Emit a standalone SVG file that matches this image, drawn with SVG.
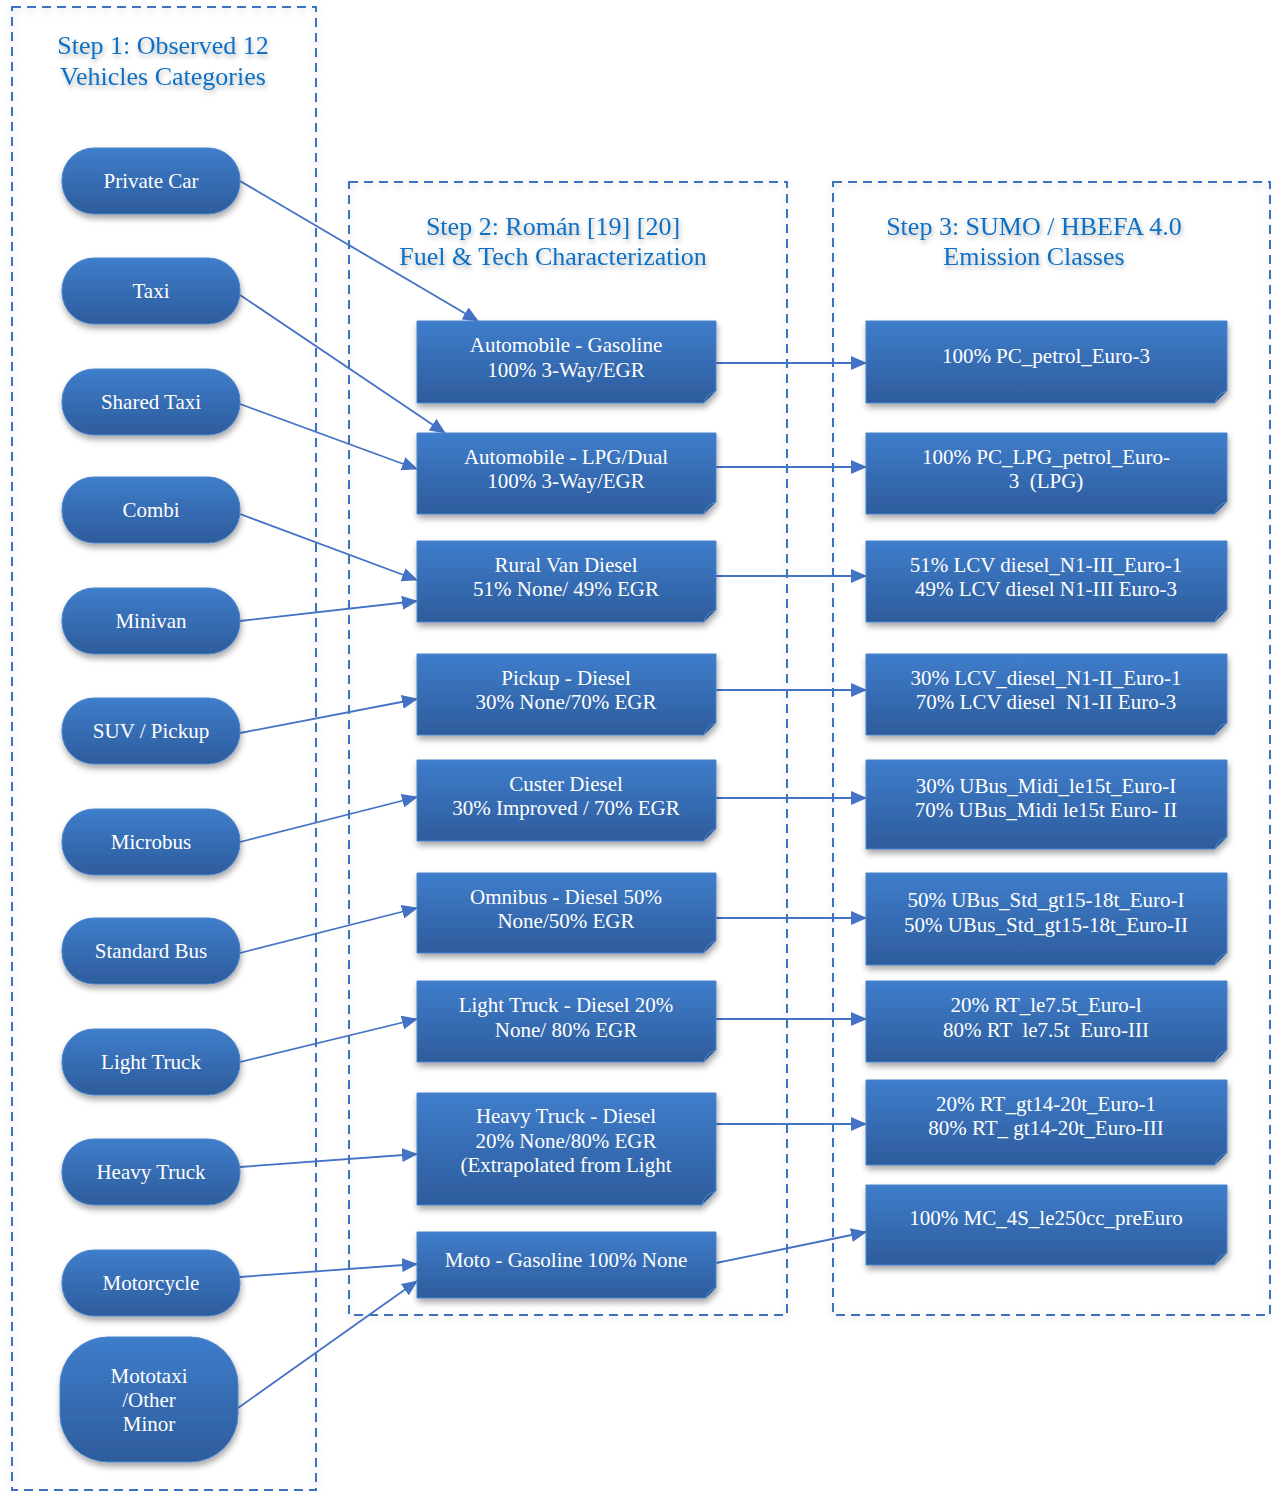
<svg xmlns="http://www.w3.org/2000/svg" width="1271" height="1491" viewBox="0 0 1271 1491">
<style>
.frame{fill:none;stroke:#3a73bf;stroke-width:2;stroke-dasharray:9 6}
.title{font-family:"Liberation Serif",serif;font-size:26px;fill:#1070c4;text-anchor:middle}
.lbl{font-family:"Liberation Serif",serif;font-size:21px;fill:#ffffff;text-anchor:middle;white-space:pre}
.box{fill:url(#g);stroke:#4a84cc;stroke-width:1}
.fold{fill:#2a5590;stroke:#5a8fd0;stroke-width:1}
.pill{fill:url(#g);stroke:#4a84cc;stroke-width:1}
.con line{stroke:#4472c4;stroke-width:1.8;fill:none}
</style>
<defs>
<linearGradient id="g" x1="0" y1="0" x2="0" y2="1">
<stop offset="0" stop-color="#3f7dcb"/>
<stop offset="1" stop-color="#2d5c9c"/>
</linearGradient>
<filter id="sh" x="-10%" y="-10%" width="125%" height="135%">
<feDropShadow dx="1" dy="4" stdDeviation="3" flood-color="#000" flood-opacity="0.35"/>
</filter>
<filter id="tsh" x="-10%" y="-30%" width="120%" height="170%">
<feDropShadow dx="1" dy="3" stdDeviation="2.5" flood-color="#000" flood-opacity="0.3"/>
</filter>
<filter id="fsh" x="-5%" y="-5%" width="110%" height="110%">
<feDropShadow dx="0" dy="3" stdDeviation="3" flood-color="#000" flood-opacity="0.18"/>
</filter>
<marker id="ah" markerUnits="userSpaceOnUse" markerWidth="16" markerHeight="14" refX="15" refY="7" orient="auto">
<path d="M0,0 L16,7 L0,14 Z" fill="#4472c4"/>
</marker>
</defs>

<g id="frames">
<rect class="frame" x="12" y="7" width="304" height="1483" filter="url(#fsh)"/>
<rect class="frame" x="349" y="182" width="438" height="1133" filter="url(#fsh)"/>
<rect class="frame" x="833" y="182" width="437" height="1133" filter="url(#fsh)"/>
</g>

<g id="titles" filter="url(#tsh)">
<text class="title" x="163" y="54">Step 1: Observed 12</text>
<text class="title" x="163" y="85">Vehicles Categories</text>
<text class="title" x="553" y="235">Step 2: Román [19] [20]</text>
<text class="title" x="553" y="265">Fuel &amp; Tech Characterization</text>
<text class="title" x="1034" y="235">Step 3: SUMO / HBEFA 4.0</text>
<text class="title" x="1034" y="265">Emission Classes</text>
</g>

<g id="connectors" class="con">
<line x1="240" y1="181" x2="478" y2="321" marker-end="url(#ah)"/>
<line x1="240" y1="295" x2="445" y2="433" marker-end="url(#ah)"/>
<line x1="240" y1="404" x2="417" y2="469" marker-end="url(#ah)"/>
<line x1="240" y1="514" x2="417" y2="580" marker-end="url(#ah)"/>
<line x1="240" y1="621" x2="417" y2="601" marker-end="url(#ah)"/>
<line x1="240" y1="733" x2="417" y2="699" marker-end="url(#ah)"/>
<line x1="240" y1="842" x2="417" y2="797" marker-end="url(#ah)"/>
<line x1="240" y1="953" x2="417" y2="908" marker-end="url(#ah)"/>
<line x1="240" y1="1062" x2="417" y2="1019" marker-end="url(#ah)"/>
<line x1="240" y1="1167" x2="417" y2="1154" marker-end="url(#ah)"/>
<line x1="240" y1="1277" x2="417" y2="1264" marker-end="url(#ah)"/>
<line x1="238" y1="1408" x2="417" y2="1281" marker-end="url(#ah)"/>
<line x1="716" y1="363" x2="866" y2="363" marker-end="url(#ah)"/>
<line x1="716" y1="467" x2="866" y2="467" marker-end="url(#ah)"/>
<line x1="716" y1="576" x2="866" y2="576" marker-end="url(#ah)"/>
<line x1="716" y1="690" x2="866" y2="690" marker-end="url(#ah)"/>
<line x1="716" y1="798" x2="866" y2="798" marker-end="url(#ah)"/>
<line x1="716" y1="918" x2="866" y2="918" marker-end="url(#ah)"/>
<line x1="716" y1="1019" x2="866" y2="1019" marker-end="url(#ah)"/>
<line x1="716" y1="1124" x2="866" y2="1124" marker-end="url(#ah)"/>
<line x1="716" y1="1263" x2="866" y2="1232" marker-end="url(#ah)"/>
</g>

<g id="step1">
<g id="n-private-car"><rect class="pill" x="62" y="148" width="178" height="66" rx="32" filter="url(#sh)"/><text class="lbl" x="151" y="188">Private Car</text></g>
<g id="n-taxi"><rect class="pill" x="62" y="258" width="178" height="66" rx="32" filter="url(#sh)"/><text class="lbl" x="151" y="298">Taxi</text></g>
<g id="n-shared-taxi"><rect class="pill" x="62" y="369" width="178" height="66" rx="32" filter="url(#sh)"/><text class="lbl" x="151" y="409">Shared Taxi</text></g>
<g id="n-combi"><rect class="pill" x="62" y="477" width="178" height="66" rx="32" filter="url(#sh)"/><text class="lbl" x="151" y="517">Combi</text></g>
<g id="n-minivan"><rect class="pill" x="62" y="588" width="178" height="66" rx="32" filter="url(#sh)"/><text class="lbl" x="151" y="628">Minivan</text></g>
<g id="n-suv"><rect class="pill" x="62" y="698" width="178" height="66" rx="32" filter="url(#sh)"/><text class="lbl" x="151" y="738">SUV / Pickup</text></g>
<g id="n-microbus"><rect class="pill" x="62" y="809" width="178" height="66" rx="32" filter="url(#sh)"/><text class="lbl" x="151" y="849">Microbus</text></g>
<g id="n-standard-bus"><rect class="pill" x="62" y="918" width="178" height="66" rx="32" filter="url(#sh)"/><text class="lbl" x="151" y="958">Standard Bus</text></g>
<g id="n-light-truck"><rect class="pill" x="62" y="1029" width="178" height="66" rx="32" filter="url(#sh)"/><text class="lbl" x="151" y="1069">Light Truck</text></g>
<g id="n-heavy-truck"><rect class="pill" x="62" y="1139" width="178" height="66" rx="32" filter="url(#sh)"/><text class="lbl" x="151" y="1179">Heavy Truck</text></g>
<g id="n-motorcycle"><rect class="pill" x="62" y="1250" width="178" height="66" rx="32" filter="url(#sh)"/><text class="lbl" x="151" y="1290">Motorcycle</text></g>
<g id="n-mototaxi"><rect class="pill" x="60" y="1337" width="178" height="125" rx="48" filter="url(#sh)"/><text class="lbl" x="149" y="1383">Mototaxi</text><text class="lbl" x="149" y="1407">/Other</text><text class="lbl" x="149" y="1431">Minor</text></g>
</g>

<g id="step2">
<g id="m-auto-gas"><path class="box" filter="url(#sh)" d="M417,321 H716 V391 L704,403 H417 Z"/><path class="fold" d="M704,403 Q706,394 716,391 Z"/><text class="lbl" x="566" y="352">Automobile - Gasoline</text><text class="lbl" x="566" y="377">100% 3-Way/EGR</text></g>
<g id="m-auto-lpg"><path class="box" filter="url(#sh)" d="M417,433 H716 V502 L704,514 H417 Z"/><path class="fold" d="M704,514 Q706,505 716,502 Z"/><text class="lbl" x="566" y="464">Automobile - LPG/Dual</text><text class="lbl" x="566" y="488">100% 3-Way/EGR</text></g>
<g id="m-rural-van"><path class="box" filter="url(#sh)" d="M417,541 H716 V610 L704,622 H417 Z"/><path class="fold" d="M704,622 Q706,613 716,610 Z"/><text class="lbl" x="566" y="572">Rural Van Diesel</text><text class="lbl" x="566" y="596">51% None/ 49% EGR</text></g>
<g id="m-pickup"><path class="box" filter="url(#sh)" d="M417,654 H716 V723 L704,735 H417 Z"/><path class="fold" d="M704,735 Q706,726 716,723 Z"/><text class="lbl" x="566" y="685">Pickup - Diesel</text><text class="lbl" x="566" y="709">30% None/70% EGR</text></g>
<g id="m-custer"><path class="box" filter="url(#sh)" d="M417,760 H716 V829 L704,841 H417 Z"/><path class="fold" d="M704,841 Q706,832 716,829 Z"/><text class="lbl" x="566" y="791">Custer Diesel</text><text class="lbl" x="566" y="815">30% Improved / 70% EGR</text></g>
<g id="m-omnibus"><path class="box" filter="url(#sh)" d="M417,873 H716 V941 L704,953 H417 Z"/><path class="fold" d="M704,953 Q706,944 716,941 Z"/><text class="lbl" x="566" y="904">Omnibus - Diesel 50%</text><text class="lbl" x="566" y="928">None/50% EGR</text></g>
<g id="m-light-truck"><path class="box" filter="url(#sh)" d="M417,981 H716 V1050 L704,1062 H417 Z"/><path class="fold" d="M704,1062 Q706,1053 716,1050 Z"/><text class="lbl" x="566" y="1012">Light Truck - Diesel 20%</text><text class="lbl" x="566" y="1037">None/ 80% EGR</text></g>
<g id="m-heavy-truck"><path class="box" filter="url(#sh)" d="M417,1093 H716 V1191 L702,1205 H417 Z"/><path class="fold" d="M702,1205 Q704,1195 716,1191 Z"/><text class="lbl" x="566" y="1123">Heavy Truck - Diesel</text><text class="lbl" x="566" y="1148">20% None/80% EGR</text><text class="lbl" x="566" y="1172">(Extrapolated from Light</text></g>
<g id="m-moto"><path class="box" filter="url(#sh)" d="M417,1232 H716 V1288 L706,1298 H417 Z"/><path class="fold" d="M706,1298 Q708,1290 716,1288 Z"/><text class="lbl" x="566" y="1267">Moto - Gasoline 100% None</text></g>
</g>

<g id="step3">
<g id="r-pc-petrol"><path class="box" filter="url(#sh)" d="M866,321 H1227 V391 L1215,403 H866 Z"/><path class="fold" d="M1215,403 Q1217,394 1227,391 Z"/><text class="lbl" x="1046" y="363">100% PC_petrol_Euro-3</text></g>
<g id="r-pc-lpg"><path class="box" filter="url(#sh)" d="M866,433 H1227 V502 L1215,514 H866 Z"/><path class="fold" d="M1215,514 Q1217,505 1227,502 Z"/><text class="lbl" x="1046" y="464">100% PC_LPG_petrol_Euro-</text><text class="lbl" x="1046" y="488">3  (LPG)</text></g>
<g id="r-lcv3"><path class="box" filter="url(#sh)" d="M866,541 H1227 V610 L1215,622 H866 Z"/><path class="fold" d="M1215,622 Q1217,613 1227,610 Z"/><text class="lbl" x="1046" y="572">51% LCV diesel_N1-III_Euro-1</text><text class="lbl" x="1046" y="596">49% LCV diesel N1-III Euro-3</text></g>
<g id="r-lcv2"><path class="box" filter="url(#sh)" d="M866,654 H1227 V723 L1215,735 H866 Z"/><path class="fold" d="M1215,735 Q1217,726 1227,723 Z"/><text class="lbl" x="1046" y="685">30% LCV_diesel_N1-II_Euro-1</text><text class="lbl" x="1046" y="709">70% LCV diesel  N1-II Euro-3</text></g>
<g id="r-ubus-midi"><path class="box" filter="url(#sh)" d="M866,760 H1227 V837 L1215,849 H866 Z"/><path class="fold" d="M1215,849 Q1217,840 1227,837 Z"/><text class="lbl" x="1046" y="793">30% UBus_Midi_le15t_Euro-I</text><text class="lbl" x="1046" y="817">70% UBus_Midi le15t Euro- II</text></g>
<g id="r-ubus-std"><path class="box" filter="url(#sh)" d="M866,873 H1227 V953 L1215,965 H866 Z"/><path class="fold" d="M1215,965 Q1217,956 1227,953 Z"/><text class="lbl" x="1046" y="907">50% UBus_Std_gt15-18t_Euro-I</text><text class="lbl" x="1046" y="932">50% UBus_Std_gt15-18t_Euro-II</text></g>
<g id="r-rt-le75"><path class="box" filter="url(#sh)" d="M866,981 H1227 V1050 L1215,1062 H866 Z"/><path class="fold" d="M1215,1062 Q1217,1053 1227,1050 Z"/><text class="lbl" x="1046" y="1012">20% RT_le7.5t_Euro-l</text><text class="lbl" x="1046" y="1037">80% RT  le7.5t  Euro-III</text></g>
<g id="r-rt-gt14"><path class="box" filter="url(#sh)" d="M866,1080 H1227 V1153 L1215,1165 H866 Z"/><path class="fold" d="M1215,1165 Q1217,1156 1227,1153 Z"/><text class="lbl" x="1046" y="1111">20% RT_gt14-20t_Euro-1</text><text class="lbl" x="1046" y="1135">80% RT_ gt14-20t_Euro-III</text></g>
<g id="r-mc"><path class="box" filter="url(#sh)" d="M866,1185 H1227 V1253 L1215,1265 H866 Z"/><path class="fold" d="M1215,1265 Q1217,1256 1227,1253 Z"/><text class="lbl" x="1046" y="1225">100% MC_4S_le250cc_preEuro</text></g>
</g>
</svg>
